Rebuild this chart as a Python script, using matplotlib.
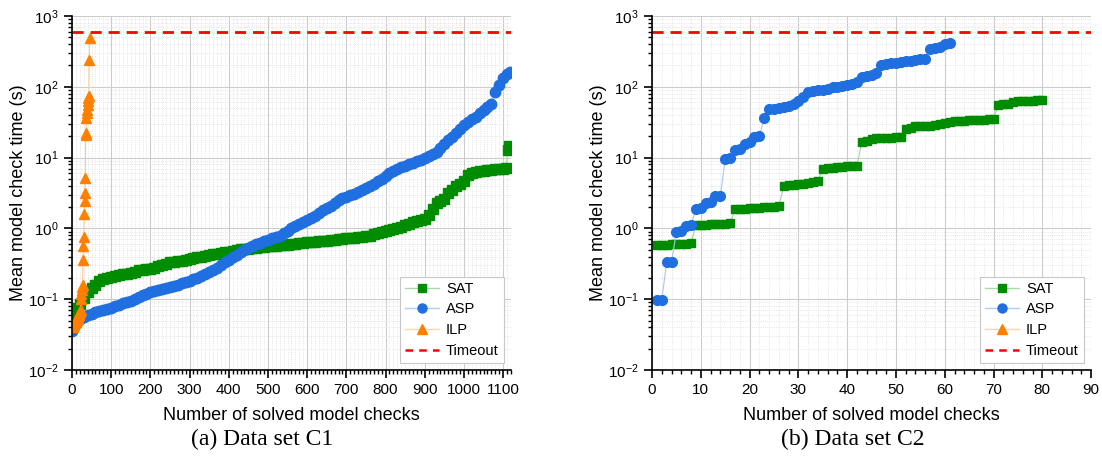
import matplotlib
matplotlib.use("Agg")
import matplotlib.pyplot as plt
from matplotlib.ticker import MultipleLocator, LogLocator, NullFormatter
from matplotlib.lines import Line2D

plt.rcParams['font.family'] = ['Liberation Sans', 'DejaVu Sans']

# ---- data set C1 (rank of solved check -> mean check time in s) ----
c1_sat_x = [1] + list(range(10, 1101, 10)) + [1108, 1112, 1116]
c1_sat_y = [0.055, 0.075, 0.085, 0.105, 0.125, 0.145, 0.16, 0.18, 0.195, 0.2,
            0.205, 0.21, 0.22, 0.225, 0.228, 0.232, 0.245, 0.255, 0.26, 0.265,
            0.27, 0.28, 0.29, 0.30, 0.315, 0.33, 0.34, 0.345, 0.35, 0.36,
            0.37, 0.38, 0.39, 0.40, 0.41, 0.42, 0.43, 0.44, 0.45, 0.46,
            0.47, 0.485, 0.50, 0.51, 0.515, 0.52, 0.525, 0.535, 0.545, 0.55,
            0.56, 0.565, 0.57, 0.575, 0.58, 0.59, 0.60, 0.61, 0.62, 0.63,
            0.64, 0.645, 0.65, 0.66, 0.665, 0.67, 0.68, 0.69, 0.70, 0.71,
            0.72, 0.73, 0.74, 0.75, 0.76, 0.77, 0.79, 0.82, 0.85, 0.89,
            0.92, 0.96, 0.99, 1.02, 1.06, 1.1, 1.15, 1.22, 1.27, 1.3,
            1.35, 1.55, 1.9, 2.3, 2.45, 2.6, 3.2, 3.5, 4.0, 4.3,
            4.7, 5.6, 6.0, 6.2, 6.4, 6.5, 6.6, 6.7, 6.8, 6.9,
            7.0, 7.05, 13.0, 14.5]

c1_asp_x = [1] + list(range(10, 1111, 10)) + [1118]
c1_asp_y = [0.035, 0.045, 0.052, 0.056, 0.059, 0.062, 0.065, 0.068, 0.07, 0.073,
            0.076, 0.08, 0.083, 0.087, 0.09, 0.095, 0.1, 0.108, 0.114, 0.12,
            0.125, 0.13, 0.135, 0.14, 0.145, 0.15, 0.155, 0.16, 0.167, 0.175,
            0.18, 0.19, 0.2, 0.21, 0.225, 0.24, 0.26, 0.28, 0.3, 0.33,
            0.36, 0.39, 0.42, 0.46, 0.5, 0.53, 0.57, 0.6, 0.63, 0.66,
            0.69, 0.72, 0.75, 0.79, 0.86, 0.93, 1.0, 1.07, 1.15, 1.23,
            1.3, 1.4, 1.52, 1.65, 1.8, 1.95, 2.1, 2.3, 2.5, 2.65,
            2.8, 2.95, 3.1, 3.3, 3.5, 3.7, 4.0, 4.3, 4.6, 5.0,
            5.5, 6.0, 6.5, 6.9, 7.3, 7.7, 8.1, 8.5, 8.9, 9.2,
            9.8, 10.5, 11.3, 12.0, 13.5, 15.5, 17.5, 19.5, 22, 25,
            29, 32, 35, 38, 42, 47, 52, 58, 85, 105,
            135, 150, 163]

c1_ilp_x = list(range(1, 46))
c1_ilp_y = [0.040, 0.041, 0.042, 0.043, 0.044, 0.045, 0.046, 0.047, 0.048, 0.049,
            0.05, 0.051, 0.052, 0.053, 0.055, 0.057, 0.059, 0.061, 0.063, 0.065,
            0.068, 0.07, 0.1, 0.12, 0.135, 0.15, 0.16, 0.36, 0.57, 0.76,
            1.6, 2.4, 3.2, 5.2, 21, 22, 36, 42, 47, 55,
            62, 70, 75, 240, 490]

# ---- data set C2 ----
c2_sat_x = list(range(1, 81))
c2_sat_y = [0.58, 0.59, 0.59, 0.6, 0.6, 0.61, 0.61, 0.62, 1.1, 1.12,
            1.13, 1.14, 1.15, 1.16, 1.17, 1.18, 1.85, 1.88, 1.9, 1.92,
            1.94, 1.96, 1.98, 2.0, 2.02, 2.08, 4.0, 4.1, 4.15, 4.2,
            4.3, 4.4, 4.5, 4.6, 7.0, 7.1, 7.2, 7.3, 7.4, 7.5,
            7.6, 7.7, 16.5, 17.0, 18.5, 18.7, 18.9, 19.0, 19.1, 19.3,
            19.5, 25.5, 26.5, 27.5, 27.8, 28.0, 28.2, 28.5, 30.0, 31.0,
            32.0, 32.5, 33.0, 33.2, 33.5, 33.8, 34.0, 34.5, 35.0, 35.5,
            56, 57, 58, 61, 62, 63, 63.5, 64, 64.5, 65]

c2_asp_x = list(range(1, 62))
c2_asp_y = [0.097, 0.099, 0.33, 0.34, 0.9, 0.93, 1.07, 1.1, 1.9, 1.95,
            2.25, 2.35, 2.85, 2.9, 9.5, 9.8, 12.8, 13.2, 15.8, 16.5,
            19.5, 20, 36, 48, 49, 50, 52, 54, 57, 62,
            72, 85, 88, 90, 91, 92, 98, 100, 103, 106,
            110, 117, 138, 142, 147, 155, 205, 210, 215, 220,
            225, 230, 235, 240, 245, 250, 340, 350, 365, 405,
            415]

timeout = 600

green = '#008c00'
blue = '#1f6fe0'
orange = '#ff8000'


def style_axes(ax, xmax, xmajor, xminor):
    ax.set_yscale('log')
    ax.set_ylim(1e-2, 1e3)
    ax.set_xlim(0, xmax)
    ax.xaxis.set_major_locator(MultipleLocator(xmajor))
    ax.xaxis.set_minor_locator(MultipleLocator(xminor))
    ax.yaxis.set_major_locator(LogLocator(base=10, numticks=10))
    ax.yaxis.set_minor_locator(LogLocator(base=10, subs=range(2, 10), numticks=20))
    ax.yaxis.set_minor_formatter(NullFormatter())
    ax.spines['top'].set_visible(False)
    ax.spines['right'].set_visible(False)
    for s in ('left', 'bottom'):
        ax.spines[s].set_linewidth(1.2)
    ax.tick_params(which='major', direction='out', length=6, width=1.2, labelsize=11)
    ax.tick_params(which='minor', direction='out', length=3, width=1.0)
    ax.grid(which='major', color='#cccccc', linewidth=0.8)
    ax.grid(which='minor', color='#dddddd', linewidth=0.6, linestyle=':')
    ax.set_axisbelow(True)
    ax.set_xlabel('Number of solved model checks', fontsize=13, labelpad=7)
    ax.set_ylabel('Mean model check time (s)', fontsize=13, labelpad=1)


def add_legend(ax):
    handles = [
        Line2D([], [], color='#a8dba8', lw=1, marker='s', mfc=green, mec=green, ms=6),
        Line2D([], [], color='#b0cdf5', lw=1, marker='o', mfc=blue, mec=blue, ms=6.5),
        Line2D([], [], color='#ffd6a8', lw=1, marker='^', mfc=orange, mec=orange, ms=7),
        Line2D([], [], color='#ff0000', lw=1.8, ls=(0, (3, 2.5))),
    ]
    leg = ax.legend(handles, ['SAT', 'ASP', 'ILP', 'Timeout'], loc='lower right',
                    fontsize=10.5, fancybox=False, framealpha=1, edgecolor='#c8c8c8',
                    handlelength=2.3, handletextpad=0.5, borderaxespad=0.5,
                    labelspacing=0.45, borderpad=0.35)
    leg.get_frame().set_linewidth(0.8)


fig = plt.figure(figsize=(11.02, 4.66), dpi=100)
ax1 = fig.add_axes([0.0653, 0.206, 0.3984, 0.7597])
ax2 = fig.add_axes([0.5917, 0.206, 0.3984, 0.7597])

# C1
ax1.plot(c1_sat_x, c1_sat_y, color='#9fd69f', lw=0.8, marker='s', mfc=green, mec=green, ms=7)
ax1.plot(c1_asp_x, c1_asp_y, color='#a8c6f2', lw=0.8, marker='o', mfc=blue, mec=blue, ms=7.5)
ax1.plot(c1_ilp_x, c1_ilp_y, color='#ffc890', lw=0.8, marker='^', mfc=orange, mec=orange, ms=7)
ax1.axhline(timeout, color='#ff0000', lw=2, ls=(0, (4, 2.5)))
style_axes(ax1, 1120, 100, 10)
add_legend(ax1)

# C2
ax2.plot(c2_sat_x, c2_sat_y, color='#9fd69f', lw=0.8, marker='s', mfc=green, mec=green, ms=5.5)
ax2.plot(c2_asp_x, c2_asp_y, color='#a8c6f2', lw=0.8, marker='o', mfc=blue, mec=blue, ms=7)
ax2.axhline(timeout, color='#ff0000', lw=2, ls=(0, (4, 2.5)))
style_axes(ax2, 90, 10, 2)
add_legend(ax2)

fig.text(0.2375, 0.058, '(a) Data set C1', ha='center', va='center',
         family=['Liberation Serif', 'DejaVu Serif'], fontsize=17)
fig.text(0.7735, 0.058, '(b) Data set C2', ha='center', va='center',
         family=['Liberation Serif', 'DejaVu Serif'], fontsize=17)

fig.savefig('out.png', dpi=100)
